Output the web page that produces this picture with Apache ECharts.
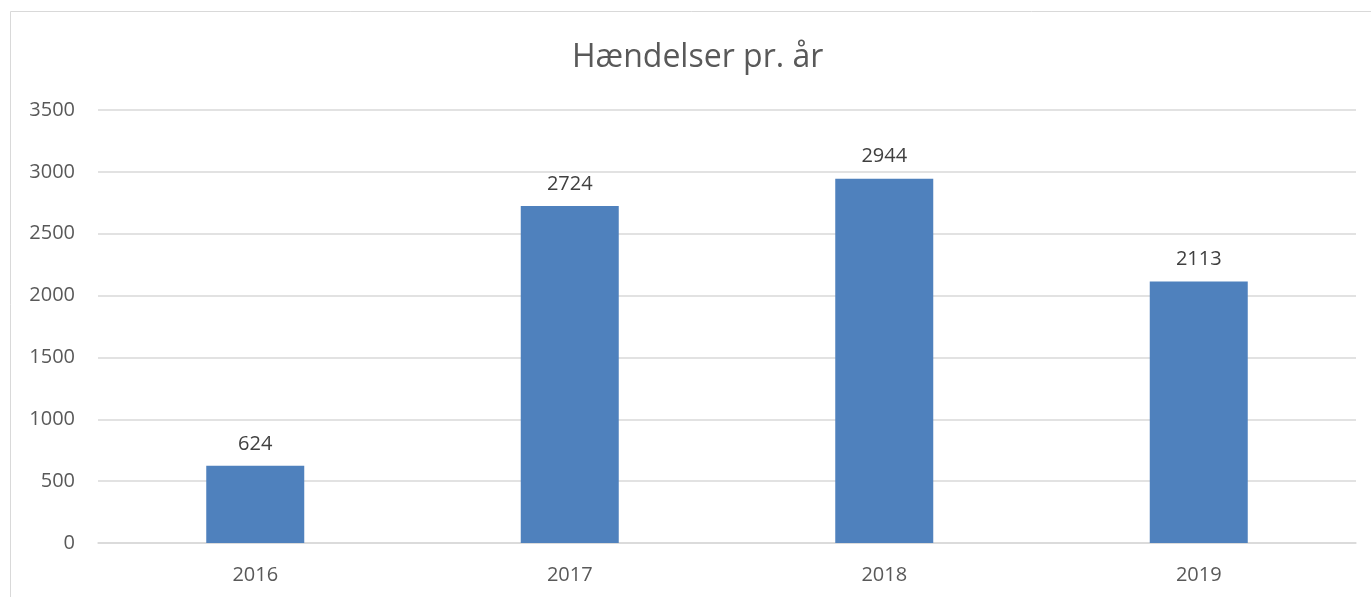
<!DOCTYPE html>
<html>
<head>
<meta charset="utf-8">
<script src="https://cdn.jsdelivr.net/npm/echarts@6/dist/echarts.min.js"></script>
<style>
  html, body { margin: 0; padding: 0; background: #fff; }
  #chart { width: 1371px; height: 597px; }
</style>
</head>
<body>
<div id="chart"></div>
<script>
// Incidents per year
const years = ['2016', '2017', '2018', '2019'];
const incidents = [624, 2724, 2944, 2113];
const yTicks = { min: 0, max: 3500, interval: 500 };

const FONT = '"Open Sans", "Liberation Sans", sans-serif';
const chart = echarts.init(document.getElementById('chart'), null, { renderer: 'canvas' });

chart.setOption({
  animation: false,
  backgroundColor: '#ffffff',
  graphic: [{
    type: 'rect',
    shape: { x: 10.5, y: 11.5, width: 1400, height: 620 },
    style: { fill: 'none', stroke: '#D9D9D9', lineWidth: 1 },
    silent: true
  }],
  title: {
    text: 'Hændelser pr. år',
    left: 572,
    top: 42,
    padding: 0,
    textStyle: { fontFamily: FONT, fontSize: 32, fontWeight: 'normal', color: '#595959' }
  },
  grid: { left: 98, right: 15, top: 110, bottom: 54, containLabel: false },
  xAxis: {
    type: 'category',
    data: years,
    axisLine: { lineStyle: { color: '#D9D9D9', width: 1.5 } },
    axisTick: { show: false },
    axisLabel: { margin: 22, fontFamily: FONT, fontSize: 20, color: '#595959' }
  },
  yAxis: {
    type: 'value',
    min: yTicks.min,
    max: yTicks.max,
    interval: yTicks.interval,
    axisLine: { show: false },
    axisTick: { show: false },
    splitLine: { lineStyle: { color: '#D9D9D9', width: 1.5 } },
    axisLabel: {
      margin: 23,
      fontFamily: FONT,
      fontSize: 20,
      color: '#595959',
      formatter: v => String(v)
    }
  },
  series: [{
    type: 'bar',
    data: incidents,
    barWidth: 98,
    itemStyle: { color: '#4F81BD' },
    label: {
      show: true,
      position: 'top',
      distance: 12,
      fontFamily: FONT,
      fontSize: 20,
      color: '#404040'
    }
  }]
});
</script>
</body>
</html>
